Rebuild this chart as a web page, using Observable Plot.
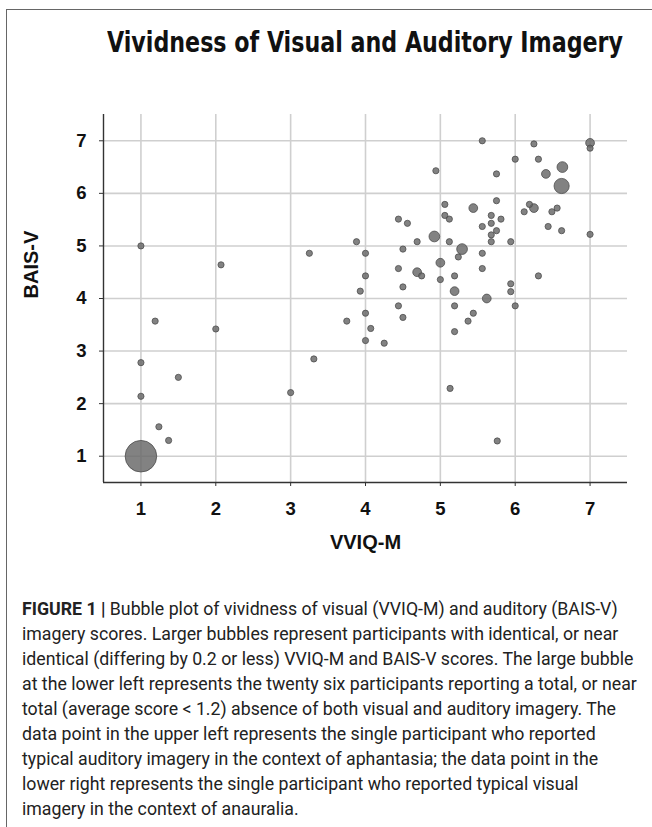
<!DOCTYPE html>
<html>
<head>
<meta charset="utf-8">
<script src="https://cdn.jsdelivr.net/npm/d3@7"></script>
<script src="https://cdn.jsdelivr.net/npm/@observablehq/plot@0.6"></script>
<style>
  html, body { margin: 0; padding: 0; background: #fff; }
  body { width: 652px; height: 827px; position: relative; overflow: hidden; }
  #frame { position: absolute; left: 6px; top: 9px; width: 700px; height: 900px;
           border-top: 1.5px solid #666; border-left: 1.5px solid #666; }
  #title { position: absolute; left: 107px; top: 29px; white-space: nowrap;
           font-family: "Liberation Sans Narrow", "Arial Narrow", "DejaVu Sans Condensed", sans-serif;
           font-weight: bold; font-size: 28px; line-height: 28px; color: #111;
           transform-origin: 0 0; }
  #chart { position: absolute; left: 0; top: 100px; }
  #caption { position: absolute; left: 22px; top: 597px; color: #222;
             font-family: "Liberation Sans Narrow", "Roboto", sans-serif; }
  #caption div { white-space: nowrap; line-height: 25px; }
</style>
</head>
<body>
<div id="frame"></div>
<div id="title"></div>
<div id="chart"></div>
<div id="caption"></div>
<script>
// ---- data ----
const titleText = "Vividness of Visual and Auditory Imagery";
const xLabel = "VVIQ-M";
const yLabel = "BAIS-V";
const xTicks = [1, 2, 3, 4, 5, 6, 7];
const yTicks = [1, 2, 3, 4, 5, 6, 7];

// VVIQ-M score, BAIS-V score, number of participants in bubble
const vviq = [1, 1, 1.19, 2.07, 2.0, 3.25, 3.31, 3.0, 1.0, 1.0, 1.5, 1.24, 1.37, 5.13, 5.76,
  3.75, 3.88, 3.93, 4.0, 4.0, 4.0, 4.07, 4.0, 4.25, 4.44, 4.56, 4.5, 4.44, 4.5, 4.44, 4.5,
  4.69, 4.69, 4.75, 4.92, 4.94, 5.0, 5.0, 5.06, 5.06, 5.12, 5.12, 5.19, 5.19, 5.19, 5.19,
  5.24, 5.29, 5.37, 5.44, 5.44, 5.56, 5.56, 5.56, 5.56, 5.62, 5.68, 5.68, 5.68, 5.68, 5.75,
  5.75, 5.75, 5.81, 5.94, 5.94, 5.94, 6.0, 6.0, 6.12, 6.19, 6.25, 6.25, 6.31, 6.31, 6.41,
  6.44, 6.49, 6.56, 6.62, 6.63, 6.62, 7.0, 7.0, 7.0];
const bais = [1, 5.0, 3.57, 4.64, 3.42, 4.86, 2.85, 2.21, 2.78, 2.14, 2.5, 1.56, 1.3, 2.29, 1.29,
  3.57, 5.08, 4.14, 4.86, 4.43, 3.72, 3.43, 3.2, 3.15, 5.51, 5.43, 4.94, 4.57, 4.22, 3.86, 3.64,
  5.08, 4.5, 4.43, 5.18, 6.43, 4.68, 4.36, 5.79, 5.58, 5.51, 5.08, 4.43, 4.14, 3.86, 3.37,
  4.79, 4.94, 3.57, 3.72, 5.72, 7.0, 5.37, 4.86, 4.57, 4.0, 5.58, 5.43, 5.21, 5.08, 5.29,
  5.86, 6.37, 5.51, 5.08, 4.28, 4.13, 3.86, 6.65, 5.65, 5.79, 5.72, 6.94, 6.65, 4.43, 6.37,
  5.37, 5.65, 5.72, 5.29, 6.5, 6.14, 6.96, 6.86, 5.22];
const counts = [26, 1, 1, 1, 1, 1, 1, 1, 1, 1, 1, 1, 1, 1, 1,
  1, 1, 1, 1, 1, 1, 1, 1, 1, 1, 1, 1, 1, 1, 1, 1,
  1, 2, 1, 3, 1, 2, 1, 1, 1, 1, 1, 1, 2, 1, 1,
  1, 3, 1, 1, 2, 1, 1, 1, 1, 2, 1, 1, 1, 1, 1,
  1, 1, 1, 1, 1, 1, 1, 1, 1, 1, 2, 1, 1, 1, 2,
  1, 1, 1, 1, 3, 6, 2, 1, 1];

const captionBold = "FIGURE 1 | ";
const captionLines = [
  "Bubble plot of vividness of visual (VVIQ-M) and auditory (BAIS-V)",
  "imagery scores. Larger bubbles represent participants with identical, or near",
  "identical (differing by 0.2 or less) VVIQ-M and BAIS-V scores. The large bubble",
  "at the lower left represents the twenty six participants reporting a total, or near",
  "total (average score < 1.2) absence of both visual and auditory imagery. The",
  "data point in the upper left represents the single participant who reported",
  "typical auditory imagery in the context of aphantasia; the data point in the",
  "lower right represents the single participant who reported typical visual",
  "imagery in the context of anauralia."
];

const points = vviq.map((v, i) => ({x: v, y: bais[i], n: counts[i]}))
  .sort((a, b) => b.n - a.n);

// ---- title ----
const titleEl = document.getElementById("title");
titleEl.textContent = titleText;
const tw = titleEl.getBoundingClientRect().width;
titleEl.style.transform = `scaleX(${516 / tw})`;

// ---- chart ----
const font = '"Liberation Sans", Arial, sans-serif';
const chart = Plot.plot({
  width: 652,
  height: 465,
  marginTop: 14,
  marginLeft: 103,
  marginRight: 25,
  marginBottom: 83,
  style: {fontFamily: font, fontSize: "18.5px", fontWeight: "bold", color: "#111", background: "transparent", overflow: "visible"},
  x: {domain: [0.5, 7.5]},
  y: {domain: [0.5, 7.5]},
  r: {type: "sqrt", domain: [0, 26], range: [0, 15.8]},
  marks: [
    Plot.gridX(xTicks, {stroke: "#cfcfcf", strokeOpacity: 1, strokeWidth: 1.6}),
    Plot.gridY(yTicks, {stroke: "#cfcfcf", strokeOpacity: 1, strokeWidth: 1.6}),
    Plot.axisX(xTicks, {tickSize: 4, tickPadding: 15, label: null, stroke: "#333",
      fontWeight: "bold", fontSize: "18.5px", tickFormat: d => d}),
    Plot.axisY(yTicks, {tickSize: 4, tickPadding: 13, label: null, stroke: "#333",
      fontWeight: "bold", fontSize: "18.5px", tickFormat: d => d}),
    Plot.ruleX([0.5], {stroke: "#333", strokeWidth: 1.4}),
    Plot.ruleY([0.5], {stroke: "#333", strokeWidth: 1.4}),
    Plot.dot(points, {x: "x", y: "y", r: "n", fill: "#666", fillOpacity: 0.82,
      stroke: "#4a4a4a", strokeOpacity: 0.85, strokeWidth: 0.9}),
    Plot.text([xLabel], {frameAnchor: "bottom", dy: 66, fontSize: 20, fontWeight: "bold",
      fontFamily: '"Liberation Sans Narrow", "Arial Narrow", "Liberation Sans", sans-serif'}),
    Plot.text([yLabel], {frameAnchor: "left", dx: -72, rotate: -90, fontSize: 20, fontWeight: "bold",
      fontFamily: '"Liberation Sans Narrow", "Arial Narrow", "Liberation Sans", sans-serif'})
  ]
});
document.getElementById("chart").appendChild(chart);

// ---- caption ----
const cap = document.getElementById("caption");
const cfam = '"Liberation Sans Narrow", "Roboto", sans-serif';
const ctx = document.createElement("canvas").getContext("2d");
let maxW = 0;
captionLines.forEach((t, i) => {
  ctx.font = `20px ${cfam}`;
  let w = ctx.measureText(t).width;
  if (i === 0) { ctx.font = `bold 20px ${cfam}`; w += ctx.measureText(captionBold).width; }
  maxW = Math.max(maxW, w);
});
const cSize = 20 * 615 / maxW;
cap.style.fontSize = cSize + "px";
captionLines.forEach((t, i) => {
  const d = document.createElement("div");
  if (i === 0) {
    const b = document.createElement("b");
    b.textContent = captionBold;
    d.appendChild(b);
  }
  d.appendChild(document.createTextNode(t));
  cap.appendChild(d);
});
</script>
</body>
</html>
